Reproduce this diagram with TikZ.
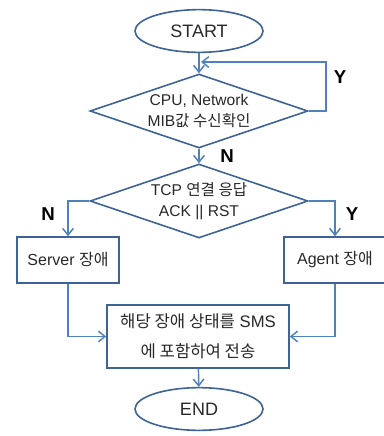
\documentclass[tikz,border=0pt]{standalone}
\usepackage{fontspec}
\setmainfont{Liberation Sans}
\newfontfamily\krfont{Noto Sans CJK KR}
\usetikzlibrary{shapes.geometric, arrows.meta, positioning}
\definecolor{shapeblue}{RGB}{62, 100, 150}
\definecolor{linkblue}{RGB}{79, 129, 189}
\definecolor{textgray}{RGB}{40, 40, 40}
\newcommand{\kr}[1]{{\krfont #1}}

\begin{document}
\begin{tikzpicture}[x=0.75pt, y=-0.75pt,
    terminal/.style={draw=shapeblue, line width=1.2pt, ellipse, minimum width=96pt, minimum height=32pt, inner sep=0pt, text=textgray, font=\fontsize{13.5}{15}\selectfont},
    decision/.style={draw=shapeblue, line width=1.2pt, diamond, aspect=2.95, minimum width=163.5pt, minimum height=55.5pt, inner sep=0pt, align=center, text=textgray, font=\fontsize{11.7}{16}\selectfont},
    procbox/.style={draw=shapeblue, line width=1.2pt, rectangle, minimum height=34.5pt, inner sep=2pt, align=center, text=textgray, font=\fontsize{12}{22}\selectfont},
    link/.style={draw=linkblue, line width=1.1pt, -{Straight Barb[length=5pt, width=8pt]}},
    answer/.style={font=\fontsize{14}{16}\selectfont\bfseries}]
  \useasboundingbox (0,0) rectangle (384,436);

  % Terminals
  \node[terminal] (start) at (199, 31) {START};
  \node[terminal] (end) at (199, 409) {END};

  % Decisions
  \node[decision] (mib) at (199, 111) {CPU, Network\\MIB\kr{값 수신확인}};
  \node[decision] (tcp) at (199, 201) {TCP \kr{연결 응답}\\ACK || RST};

  % Fault boxes
  \node[procbox, minimum width=76.5pt] (server) at (68, 260) {Server \kr{장애}};
  \node[procbox, minimum width=76.5pt] (agent) at (335, 260) {Agent \kr{장애}};
  \node[procbox, minimum width=136.5pt, minimum height=47.25pt, font=\fontsize{12.5}{22.5}\selectfont] (sms) at (198, 336.5) {\kr{해당 장애 상태를} SMS\\\kr{에 포함하여 전송}};

  % Main flow
  \draw[link] (start) -- (mib);
  \draw[link] (mib) -- (tcp);
  \draw[link] (sms) -- (end);

  % Retry loop
  \coordinate (loopc) at (326, 62);
  \coordinate (loopin) at (201, 62);
  \draw[link] (mib.east) -| (loopc) -- (loopin);

  % Branches
  \draw[link] (tcp.west) -| (server.north);
  \draw[link] (tcp.east) -| (agent.north);
  \draw[link] (server.south) |- (sms.west);
  \draw[link] (agent.south) |- (sms.east);

  % Answers
  \node[answer] (y1) at (340, 77) {Y};
  \node[answer] (n1) at (227, 156) {N};
  \node[answer] (n2) at (48, 214) {N};
  \node[answer] (y2) at (352, 214) {Y};
\end{tikzpicture}
\end{document}
